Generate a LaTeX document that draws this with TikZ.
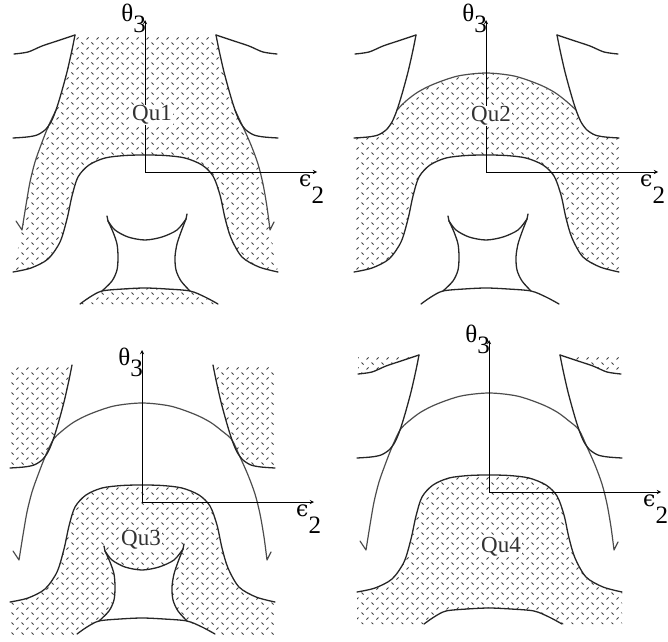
\documentclass[tikz,border=0pt]{standalone}
\usepackage{fontspec}
\setmainfont{Liberation Serif}
\newfontfamily\dejaserif{DejaVu Serif}
\usepackage{tikz}
\usetikzlibrary{patterns}
% 虚线网格填充
\pgfdeclarepatternformonly{dashnet}{\pgfqpoint{-1pt}{-1pt}}{\pgfqpoint{11pt}{11pt}}{\pgfqpoint{10pt}{10pt}}{%
  \pgfsetlinewidth{0.9pt}%
  \pgfpathmoveto{\pgfqpoint{1.5pt}{8.5pt}}\pgfpathlineto{\pgfqpoint{3.5pt}{6.5pt}}%
  \pgfpathmoveto{\pgfqpoint{6.5pt}{1.5pt}}\pgfpathlineto{\pgfqpoint{8.5pt}{3.5pt}}%
  \pgfusepath{stroke}}
\tikzset{
    crv/.style={line width=1.3pt,black!85,line join=round,line cap=round},
    domecrv/.style={line width=1.2pt,black!70,line join=round,line cap=round},
    hatch/.style={pattern=dashnet,pattern color=black!75},
    axis/.style={->,line width=0.9pt},
    lab/.style={font=\fontsize{25}{25}\selectfont,inner sep=0pt},
    qu/.style={font=\fontsize{23}{23}\selectfont,text=black!80,fill=white,inner sep=1pt}
}
\begin{document}
\begin{tikzpicture}[x=1pt,y=1pt,>=stealth]
    \useasboundingbox (0,0) rectangle (668,641);
    % Qu1 的阴影
    \begin{scope}[shift={(145,469)}]
        \fill[hatch] plot[smooth] coordinates {(-70,137) (-73,122) (-78,100) (-84,78) (-89,62) (-97,45) (-104,27) (-110,10) (-115,-10) (-119,-33) (-123,-58)}
        -- plot[smooth] coordinates {(-132,-100) (-114,-96) (-97,-87) (-85,-70) (-78,-47) (-73,-24) (-67,-5) (-56,7) (-40,14) (-20,16.5) (0,17) (20,16.5) (40,14) (57,7) (68,-4) (75,-23) (80,-46) (86,-66) (97,-85) (114,-95) (133,-100)}
        -- plot[smooth] coordinates {(125,-58) (122,-35) (118,-12) (113,8) (106,27) (98,45) (90,62) (85,78) (79,100) (74,122) (71,137)} -- cycle;
        \fill[hatch] plot[smooth] coordinates {(-65,-132) (-55,-125) (-43,-119) (-22,-117) (0,-116) (22,-117) (45,-119) (60,-125) (73,-132)} -- cycle;
        \draw[domecrv] plot[smooth] coordinates {(-89,62) (-97,45) (-104,27) (-110,10) (-115,-10) (-119,-33) (-123,-58)} -- (-129,-49);
        \draw[domecrv] plot[smooth] coordinates {(90,62) (98,45) (106,27) (113,8) (118,-12) (122,-35) (125,-58)} -- (129,-50);
    \end{scope}
    % Qu2 的阴影
    \begin{scope}[shift={(486,469)}]
        \fill[hatch] plot[smooth] coordinates {(-132,34) (-118,35) (-108,37) (-100,42) (-94,50) (-89,62)}
        -- plot[smooth] coordinates {(-89,62) (-80,71) (-68,80) (-52,88) (-28,96) (0,99) (28,96) (52,88) (68,80) (80,71) (90,62)}
        -- plot[smooth] coordinates {(90,62) (95,50) (101,42) (109,37) (119,35) (133,34)}
        -- plot[smooth] coordinates {(133,-100) (114,-95) (97,-85) (86,-66) (80,-46) (75,-23) (68,-4) (57,7) (40,14) (20,16.5) (0,17) (-20,16.5) (-40,14) (-56,7) (-67,-5) (-73,-24) (-78,-47) (-85,-70) (-97,-87) (-114,-96) (-132,-100)} -- cycle;
        \draw[domecrv] plot[smooth] coordinates {(-89,62) (-80,71) (-68,80) (-52,88) (-28,96) (0,99) (28,96) (52,88) (68,80) (80,71) (90,62)};
    \end{scope}
    % Qu3 的阴影
    \begin{scope}[shift={(142,139)}]
        \fill[hatch] plot[smooth] coordinates {(-132,34) (-118,35) (-108,37) (-100,42) (-94,50) (-89,62) (-84,78) (-78,100) (-73,122) (-70,137)} -- (-132,137) -- cycle;
        \fill[hatch] plot[smooth] coordinates {(133,34) (119,35) (109,37) (101,42) (95,50) (90,62) (85,78) (79,100) (74,122) (71,137)} -- (133,137) -- cycle;
        \fill[hatch] (-132,-135)
        -- plot[smooth] coordinates {(-132,-100) (-114,-96) (-97,-87) (-85,-70) (-78,-47) (-73,-24) (-67,-5) (-56,7) (-40,14) (-20,16.5) (0,17) (20,16.5) (40,14) (57,7) (68,-4) (75,-23) (80,-46) (86,-66) (97,-85) (114,-95) (133,-100)}
        -- (133,-135) -- (73,-135)
        -- plot[smooth] coordinates {(73,-132) (60,-125) (45,-119) (36,-109) (31,-98) (30,-85) (32,-72) (36,-60) (41,-47)}
        -- plot[smooth] coordinates {(41,-47) (32,-58) (17,-65) (0,-68) (-17,-65) (-30,-58) (-37,-49)}
        -- plot[smooth] coordinates {(-37,-49) (-32,-60) (-28,-72) (-27,-85) (-28,-98) (-33,-109) (-43,-119) (-55,-125) (-65,-132)}
        -- (-65,-135) -- cycle;
    \end{scope}
    % Qu4 的阴影
    \begin{scope}[shift={(489,149)}]
        \fill[hatch] (-132,-132)
        -- plot[smooth] coordinates {(-132,-100) (-114,-96) (-97,-87) (-85,-70) (-78,-47) (-73,-24) (-67,-5) (-56,7) (-40,14) (-20,16.5) (0,17) (20,16.5) (40,14) (57,7) (68,-4) (75,-23) (80,-46) (86,-66) (97,-85) (114,-95) (133,-100)}
        -- (133,-132)
        -- plot[smooth] coordinates {(73,-132) (60,-125) (45,-119) (22,-117) (0,-116) (-22,-117) (-43,-119) (-55,-125) (-65,-132)} -- cycle;
        \fill[hatch] plot[smooth] coordinates {(-131,118) (-117,120) (-103,126) (-88,131) (-70,137)} -- (-131,137) -- cycle;
        \fill[hatch] plot[smooth] coordinates {(132,118) (118,120) (104,126) (89,131) (71,137)} -- (132,137) -- cycle;
    \end{scope}
    % 上方的两翼
    \foreach \ox/\oy in {145/469,486/469,489/149}
    {
        \begin{scope}[shift={(\ox,\oy)}]
            \draw[crv] plot[smooth] coordinates {(-131,118) (-117,120) (-103,126) (-88,131) (-70,137)};
            \draw[crv] plot[smooth] coordinates {(132,118) (118,120) (104,126) (89,131) (71,137)};
        \end{scope}
    }
    % 沙漏形
    \foreach \ox/\oy in {145/469,486/469,142/139}
    {
        \begin{scope}[shift={(\ox,\oy)}]
            \draw[crv] (-38,-44) -- plot[smooth] coordinates {(-37,-49) (-30,-58) (-17,-65) (0,-68) (17,-65) (32,-58) (41,-47)} -- (42,-42);
            \draw[crv] plot[smooth] coordinates {(-37,-49) (-32,-60) (-28,-72) (-27,-85) (-28,-98) (-33,-109) (-43,-119)};
            \draw[crv] plot[smooth] coordinates {(41,-47) (36,-60) (32,-72) (30,-85) (31,-98) (36,-109) (45,-119)};
        \end{scope}
    }
    % 完整的拱形
    \foreach \ox/\oy in {142/139,489/149}
    {
        \begin{scope}[shift={(\ox,\oy)}]
            \draw[domecrv] (-129,-49) -- plot[smooth] coordinates {(-123,-58) (-119,-33) (-115,-10) (-110,10) (-104,27) (-97,45) (-89,62) (-80,71) (-68,80) (-52,88) (-28,96) (0,99) (28,96) (52,88) (68,80) (80,71) (90,62) (98,45) (106,27) (113,8) (118,-12) (122,-35) (125,-58)} -- (129,-50);
        \end{scope}
    }
    % 公共部分: 坐标轴, 台形曲线, 底边
    \foreach \ox/\oy/\n/\ly/\qx/\qy in {145/469/1/150/7/57, 486/469/2/150/5/56, 142/139/3/137/-1/-38, 489/149/4/150/12/-55}
    {
        \begin{scope}[shift={(\ox,\oy)}]
            \draw[crv] plot[smooth] coordinates {(-70,137) (-73,122) (-78,100) (-84,78) (-89,62) (-94,50) (-100,42) (-108,37) (-118,35) (-132,34)};
            \draw[crv] plot[smooth] coordinates {(71,137) (74,122) (79,100) (85,78) (90,62) (95,50) (101,42) (109,37) (119,35) (133,34)};
            \draw[crv] plot[smooth] coordinates {(-132,-100) (-114,-96) (-97,-87) (-85,-70) (-78,-47) (-73,-24) (-67,-5) (-56,7) (-40,14) (-20,16.5) (0,17) (20,16.5) (40,14) (57,7) (68,-4) (75,-23) (80,-46) (86,-66) (97,-85) (114,-95) (133,-100)};
            \draw[crv] plot[smooth] coordinates {(-65,-132) (-55,-125) (-43,-119) (-22,-117) (0,-116) (22,-117) (45,-119) (60,-125) (73,-132)};
            \coordinate (o\n) at (0,0);
            \coordinate (yt\n) at (0,152);
            \coordinate (xt\n) at (172,0);
            \draw[axis] (o\n) -- (yt\n);
            \draw[axis] (o\n) -- (xt\n);
            \node[lab,anchor=base east] (th\n) at (1,\ly) {θ\raisebox{-11pt}{3}};
            \node[lab,anchor=base west] (ep\n) at (154,-14) {{\dejaserif\fontsize{22}{22}\selectfont ϵ}\raisebox{-17pt}{2}};
            \node[qu] (qu\n) at (\qx,\qy) {Qu\n};
        \end{scope}
    }
\end{tikzpicture}
\end{document}
